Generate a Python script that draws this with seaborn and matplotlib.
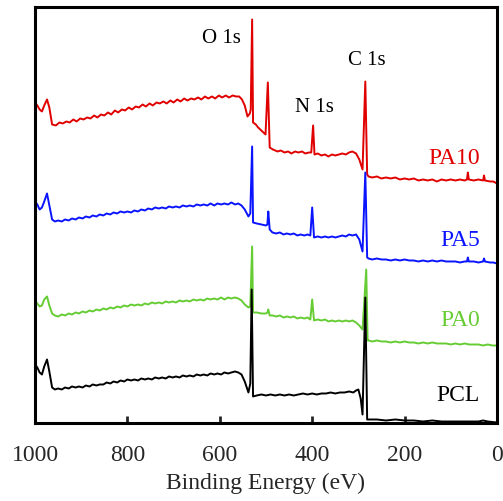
import matplotlib
matplotlib.use("Agg")
import matplotlib.pyplot as plt
import pandas as pd
import seaborn as sns

# Binding energy (eV) / intensity (a.u., stacked)
pa10_be = [1000, 995, 990, 985, 980, 974, 969, 963, 955, 947, 940, 932, 925, 917, 910, 902, 895, 887, 880,
           872, 865, 857, 850, 842, 835, 827, 820, 812, 805, 797, 790, 782, 775, 767, 760, 752, 745, 737,
           730, 722, 715, 707, 700, 692, 685, 677, 670, 662, 655, 647, 640, 632, 625, 617, 610, 602, 595,
           587, 580, 572, 565, 558, 552, 546, 540, 535, 533, 530, 528, 522, 517, 510, 505, 501, 496, 492,
           485, 475, 468, 460, 452, 445, 437, 430, 422, 415, 407, 402, 398, 395, 388, 380, 372, 365, 357,
           350, 342, 335, 327, 320, 313, 305, 298, 291, 285, 281, 278, 270, 260, 250, 240, 230, 220, 210,
           200, 190, 180, 170, 160, 150, 140, 130, 120, 110, 100, 90, 80, 70, 65, 63, 61, 50, 40, 30, 28,
           26, 15, 8, 0]
pa10_int = [321, 318, 314, 312, 318, 324, 316, 299, 298, 301, 300, 302, 301, 304, 302, 305, 304, 306, 305,
            308, 306, 309, 308, 311, 309, 313, 311, 314, 313, 316, 314, 317, 316, 319, 317, 320, 318, 321,
            320, 322, 320, 323, 321, 324, 322, 325, 323, 325, 324, 326, 324, 327, 325, 327, 325, 328, 326,
            328, 326, 328, 327, 327, 324, 318, 307, 310, 314, 404, 301, 299, 296, 293, 291, 289, 341, 276,
            274, 272, 273, 271, 272, 270, 272, 271, 272, 270, 271, 271, 298, 269, 270, 268, 269, 267, 269,
            268, 269, 270, 269, 271, 272, 270, 264, 254, 342, 249, 247, 246, 247, 245, 246, 245, 246, 244,
            245, 244, 245, 243, 244, 243, 244, 242, 244, 243, 244, 243, 244, 243, 244, 251, 244, 243, 244, 243, 248,
            243, 242, 242, 240]

pa5_be = [1000, 995, 990, 985, 980, 974, 969, 963, 957, 950, 942, 935, 927, 920, 912, 905, 897, 890, 882,
          875, 867, 860, 852, 845, 837, 830, 822, 815, 807, 800, 792, 785, 777, 770, 762, 755, 747, 740,
          732, 725, 717, 710, 702, 695, 687, 680, 672, 665, 657, 650, 642, 635, 627, 620, 612, 605, 597,
          590, 582, 575, 567, 560, 553, 546, 538, 534, 530, 528, 520, 510, 500, 497, 495, 492, 486, 478,
          470, 462, 455, 447, 440, 432, 425, 417, 410, 404, 400, 396, 388, 380, 372, 365, 357, 350, 342,
          335, 327, 320, 313, 305, 298, 291, 285, 281, 278, 270, 260, 250, 240, 230, 220, 210, 200, 190,
          180, 170, 160, 150, 140, 130, 120, 110, 100, 90, 80, 70, 65, 63, 61, 50, 40, 30, 28, 26, 15, 8, 0]
pa5_int = [222, 219, 214, 216, 222, 230, 218, 204, 202, 203, 202, 204, 203, 205, 204, 206, 205, 207, 206,
           208, 207, 209, 208, 210, 209, 211, 210, 212, 211, 212, 211, 213, 212, 214, 213, 215, 214, 216,
           215, 216, 215, 217, 216, 217, 216, 218, 217, 218, 217, 219, 218, 219, 218, 220, 218, 220, 219,
           220, 219, 221, 219, 220, 218, 214, 207, 210, 277, 201, 200, 199, 198, 199, 212, 194, 191, 190,
           191, 189, 190, 189, 190, 188, 189, 188, 189, 188, 216, 186, 187, 186, 187, 186, 187, 186, 187,
           188, 187, 189, 188, 189, 184, 172, 251, 166, 165, 164, 165, 164, 164, 163, 164, 163, 164, 163,
           163, 162, 163, 162, 163, 162, 163, 162, 162, 162, 161, 162, 162, 166, 162, 162, 161, 162, 165, 162, 161, 161, 160]

pa0_be = [1000, 995, 990, 985, 980, 974, 969, 963, 957, 950, 942, 935, 927, 920, 912, 905, 897, 890, 882,
          875, 867, 860, 852, 845, 837, 830, 822, 815, 807, 800, 792, 785, 777, 770, 762, 755, 747, 740,
          732, 725, 717, 710, 702, 695, 687, 680, 672, 665, 657, 650, 642, 635, 627, 620, 612, 605, 597,
          590, 582, 575, 567, 560, 553, 546, 538, 534, 530, 528, 520, 510, 500, 497, 495, 492, 485, 478,
          470, 462, 455, 447, 440, 432, 425, 417, 410, 404, 400, 396, 388, 380, 372, 365, 357, 350, 342,
          335, 327, 320, 313, 305, 298, 291, 283, 280, 278, 270, 260, 250, 240, 230, 220, 210, 200, 190,
          180, 170, 160, 150, 140, 130, 120, 110, 100, 90, 80, 70, 60, 50, 40, 30, 20, 10, 0]
pa0_int = [122, 120, 117, 118, 124, 127, 118, 110, 108, 107, 109, 108, 110, 109, 111, 110, 112, 111, 113,
           112, 114, 113, 115, 114, 116, 115, 117, 116, 118, 117, 119, 118, 119, 118, 120, 119, 121, 120,
           121, 120, 122, 121, 122, 121, 123, 122, 123, 122, 124, 123, 124, 123, 125, 124, 125, 124, 126,
           124, 126, 125, 126, 125, 123, 119, 116, 117, 177, 111, 111, 110, 110, 111, 114, 108, 108, 107,
           108, 106, 107, 106, 107, 105, 106, 105, 106, 104, 124, 103, 104, 103, 104, 102, 103, 102, 103,
           102, 103, 102, 103, 101, 98, 94, 154, 83, 83, 82, 83, 82, 82, 81, 82, 81, 82, 81,
           81, 80, 81, 80, 81, 80, 80, 80, 79, 80, 79, 80, 79, 79, 79, 78, 79, 78, 78]

pcl_be = [1000, 995, 990, 985, 980, 974, 969, 963, 957, 950, 942, 935, 927, 920, 912, 905, 897, 890, 882,
          875, 867, 860, 852, 845, 837, 830, 822, 815, 807, 800, 792, 785, 777, 770, 762, 755, 747, 740,
          732, 725, 717, 710, 702, 695, 687, 680, 672, 665, 657, 650, 642, 635, 627, 620, 612, 605, 597,
          590, 582, 575, 567, 560, 553, 546, 538, 534, 531, 528, 520, 510, 500, 490, 480, 470, 460, 450,
          440, 430, 420, 410, 400, 390, 380, 370, 360, 350, 340, 330, 320, 311, 305, 300, 295, 291, 285,
          281, 278, 260, 240, 220, 200, 180, 160, 140, 120, 100, 80, 60, 40, 30, 20, 0]
pcl_int = [59, 56, 51, 49, 57, 64, 52, 36, 34, 35, 34, 36, 35, 37, 36, 37, 36, 38, 37,
           39, 38, 39, 39, 41, 40, 42, 41, 43, 42, 44, 43, 44, 43, 45, 44, 45, 44, 46,
           45, 46, 45, 47, 46, 47, 46, 48, 47, 48, 47, 49, 48, 49, 48, 50, 49, 50, 49,
           51, 50, 51, 52, 51, 49, 42, 31, 40, 134, 27, 28, 29, 28, 29, 28, 29, 28, 29,
           28, 29, 30, 29, 30, 29, 30, 30, 31, 30, 31, 31, 32, 31, 33, 34, 25, 9, 126,
           4, 4, 4, 3, 4, 3, 3, 2, 3, 2, 2, 2, 2, 2, 3, 2, 1]

series_names = ["PA10", "PA5", "PA0", "PCL"]
series_colors = ["#e00000", "#0a14ff", "#66cc33", "#000000"]
label_pos = [(92, 266), (79, 184), (79, 104), (85, 29)]
peak_labels = ["O 1s", "N 1s", "C 1s"]
peak_pos = [(597, 386), (395, 317), (282, 364)]

frames = []
for name, be, it in zip(series_names, [pa10_be, pa5_be, pa0_be, pcl_be],
                        [pa10_int, pa5_int, pa0_int, pcl_int]):
    frames.append(pd.DataFrame({"be": be, "int": it, "sample": name}))
df = pd.concat(frames, ignore_index=True)

sns.set_style("ticks")
plt.rcParams["font.family"] = ["Liberation Serif", "DejaVu Serif"]

fig = plt.figure(figsize=(5.03, 5.02), dpi=100)
ax = fig.add_axes([0.0696, 0.1544, 0.9184, 0.8287])

sns.lineplot(data=df, x="be", y="int", hue="sample", palette=dict(zip(series_names, series_colors)),
             estimator=None, sort=False, linewidth=1.4, legend=False, ax=ax)

for name, col, (x, y) in zip(series_names, series_colors, label_pos):
    ax.text(x, y, name, color=col, fontsize=17, ha="center", va="center")
for lab, (x, y) in zip(peak_labels, peak_pos):
    ax.text(x, y, lab, color="black", fontsize=15, ha="center", va="center")

ax.set_xlim(1000, 0)
ax.set_ylim(0, 416)
ax.set_yticks([])
ax.set_xticks([1000, 800, 600, 400, 200, 0])
ax.tick_params(axis="x", direction="in", length=5, width=2, labelsize=17, pad=15)
ax.set_xlabel("Binding Energy (eV)", fontsize=17, labelpad=5)
ax.set_ylabel("")
for sp in ax.spines.values():
    sp.set_linewidth(2.2)
    sp.set_color("black")

fig.savefig("out.png", dpi=100)
